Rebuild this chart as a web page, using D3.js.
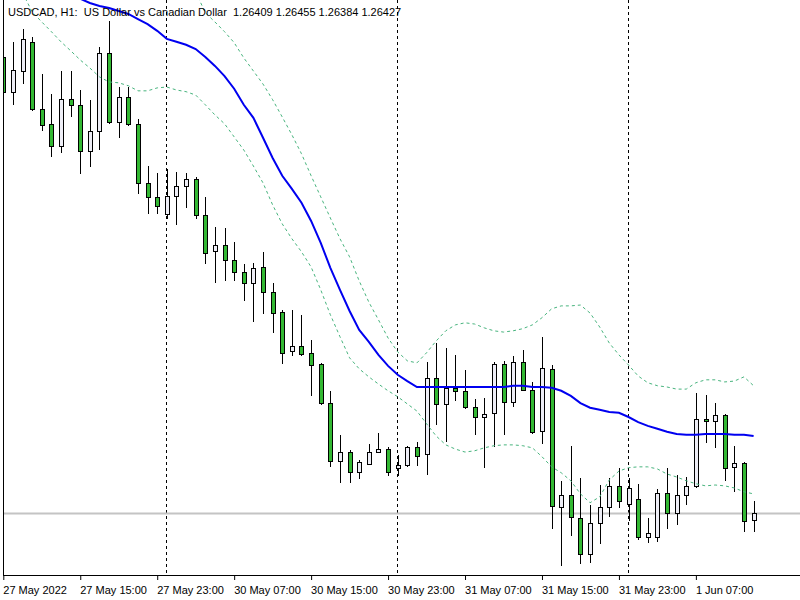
<!DOCTYPE html>
<html>
<head>
<meta charset="utf-8">
<script src="https://cdn.jsdelivr.net/npm/d3@7"></script>
<style>
body { margin: 0; background: #fff; }
svg { display: block; font-family: "Liberation Sans", Arial, sans-serif; }
</style>
</head>
<body>
<div id="chart"></div>
<script>
// USDCAD H1, 27 May 2022 07:00 .. 1 Jun 2022 13:00
var opens = [1.27506,1.27424,1.27473,1.27542,1.27383,1.27348,1.27296,1.27407,1.27393,1.27284,
  1.27331,1.27516,1.27352,1.27412,1.27348,1.27208,1.27175,1.27135,1.27177,1.27201,
  1.27218,1.27133,1.27047,1.27061,1.27026,1.26997,1.26971,1.27009,1.26950,1.26902,
  1.26810,1.26822,1.26806,1.26780,1.26687,1.26550,1.26571,1.26524,1.26543,1.26571,
  1.26578,1.26533,1.26541,1.26583,1.26567,1.26747,1.26685,1.26723,1.26716,1.26678,
  1.26654,1.26664,1.26780,1.26690,1.26784,1.26718,1.26621,1.26768,1.26441,1.26470,
  1.26415,1.26330,1.26403,1.26441,1.26491,1.26448,1.26460,1.26370,1.26370,1.26474,
  1.26427,1.26470,1.26491,1.26650,1.26645,1.26659,1.26536,1.26545,1.26409];
var highs = [1.27518,1.27542,1.27573,1.27554,1.27466,1.27419,1.27473,1.27473,1.27428,1.27405,
  1.27530,1.27592,1.27435,1.27435,1.27360,1.27248,1.27232,1.27241,1.27234,1.27232,
  1.27222,1.27175,1.27104,1.27102,1.27068,1.27016,1.27019,1.27045,1.26971,1.26908,
  1.26908,1.26896,1.26836,1.26781,1.26716,1.26612,1.26576,1.26552,1.26590,1.26616,
  1.26583,1.26564,1.26586,1.26595,1.26784,1.26829,1.26818,1.26801,1.26766,1.26697,
  1.26699,1.26784,1.26787,1.26799,1.26813,1.26737,1.26844,1.26777,1.26503,1.26586,
  1.26510,1.26446,1.26493,1.26510,1.26534,1.26510,1.26496,1.26415,1.26484,1.26533,
  1.26517,1.26512,1.26711,1.26706,1.26687,1.26660,1.26586,1.26548,1.26455];
var lows = [1.27416,1.27395,1.27445,1.27381,1.27334,1.27272,1.27282,1.27367,1.27232,1.27248,
  1.27289,1.27350,1.27317,1.27345,1.27184,1.27137,1.27137,1.27125,1.27111,1.27151,
  1.27125,1.27019,1.26974,1.26979,1.26979,1.26931,1.26882,1.26900,1.26855,1.26782,
  1.26801,1.26801,1.26706,1.26685,1.26538,1.26500,1.26500,1.26510,1.26542,1.26570,
  1.26517,1.26517,1.26538,1.26541,1.26519,1.26638,1.26597,1.26695,1.26676,1.26614,
  1.26536,1.26586,1.26614,1.26680,1.26718,1.26616,1.26593,1.26391,1.26304,1.26375,
  1.26309,1.26311,1.26356,1.26420,1.26441,1.26410,1.26365,1.26358,1.26361,1.26391,
  1.26401,1.26448,1.26488,1.26595,1.26583,1.26505,1.26479,1.26384,1.26384];
var closes = [1.27424,1.27476,1.27549,1.27383,1.27345,1.27296,1.27407,1.27393,1.27284,1.27331,
  1.27516,1.27352,1.27412,1.27348,1.27208,1.27175,1.27154,1.27177,1.27201,1.27218,
  1.27132,1.27042,1.27061,1.27026,1.26997,1.26971,1.27007,1.26950,1.26900,1.26806,
  1.26822,1.26803,1.26777,1.26687,1.26550,1.26571,1.26524,1.26548,1.26571,1.26578,
  1.26524,1.26541,1.26583,1.26562,1.26747,1.26685,1.26723,1.26716,1.26678,1.26654,
  1.26661,1.26780,1.26690,1.26784,1.26719,1.26619,1.26770,1.26444,1.26470,1.26417,
  1.26330,1.26403,1.26441,1.26491,1.26455,1.26486,1.26370,1.26380,1.26474,1.26427,
  1.26470,1.26491,1.26650,1.26645,1.26659,1.26533,1.26545,1.26408,1.26427];

// moving average (blue) and bands (dashed), null where off the chart
var maLine = [null,null,null,null,null,null,null,null,
  1.27644,1.27634,1.27627,1.27622,1.27615,1.27608,1.27596,1.27584,1.27568,1.27549,
  1.27542,1.27535,1.27525,1.27506,1.27485,1.27461,1.27431,1.27393,1.27362,1.27315,
  1.27267,1.27225,1.27194,1.27161,1.27118,1.27066,1.27007,1.26955,1.26905,1.26860,
  1.26832,1.26801,1.26775,1.26754,1.26739,1.26725,1.26725,1.26725,1.26725,1.26725,
  1.26725,1.26725,1.26725,1.26725,1.26725,1.26728,1.26728,1.26725,1.26725,1.26723,
  1.26716,1.26704,1.26687,1.26676,1.26671,1.26666,1.26664,1.26654,1.26642,1.26633,
  1.26626,1.26619,1.26614,1.26612,1.26612,1.26614,1.26614,1.26614,1.26612,1.26612,1.26609];
var upperBand = [null,null,null,null,null,null,null,null,null,null,
  null,null,null,null,null,null,null,null,null,null,
  1.27660,1.27611,1.27589,1.27566,1.27540,1.27504,1.27473,1.27442,1.27405,1.27364,
  1.27322,1.27277,1.27225,1.27175,1.27125,1.27076,1.27033,1.26976,1.26926,1.26884,
  1.26841,1.26808,1.26787,1.26782,1.26806,1.26834,1.26858,1.26872,1.26877,1.26874,
  1.26865,1.26858,1.26855,1.26858,1.26863,1.26872,1.26889,1.26910,1.26917,1.26917,
  1.26919,1.26900,1.26867,1.26829,1.26801,1.26777,1.26751,1.26735,1.26728,1.26725,
  1.26720,1.26720,1.26735,1.26742,1.26742,1.26737,1.26739,1.26749,1.26728];
var lowerBand = [null,null,
  1.27658,1.27613,1.27589,1.27566,1.27542,1.27521,1.27499,1.27480,
  1.27459,1.27447,1.27445,1.27438,1.27426,1.27426,1.27433,1.27435,1.27428,1.27424,
  1.27416,1.27393,1.27369,1.27348,1.27317,1.27286,1.27248,1.27208,1.27156,1.27111,
  1.27076,1.27045,1.27009,1.26955,1.26896,1.26844,1.26794,1.26768,1.26749,1.26732,
  1.26716,1.26702,1.26685,1.26668,1.26638,1.26609,1.26588,1.26578,1.26571,1.26574,
  1.26581,1.26586,1.26588,1.26588,1.26586,1.26581,1.26560,1.26536,1.26522,1.26503,
  1.26472,1.26451,1.26465,1.26505,1.26526,1.26534,1.26536,1.26536,1.26531,1.26519,
  1.26512,1.26503,1.26496,1.26491,1.26493,1.26491,1.26486,1.26477,1.26472];

var tickIdx = [0, 8, 16, 24, 32, 40, 48, 56, 64, 72];
var tickLabels = ["27 May 2022", "27 May 15:00", "27 May 23:00", "30 May 07:00", "30 May 15:00",
  "30 May 23:00", "31 May 07:00", "31 May 15:00", "31 May 23:00", "1 Jun 07:00"];
var daySeparators = [17, 41, 65];   // first bar of 30 May, 31 May, 1 Jun

var W = 800, H = 600, left = 3, bottom = 575;
var n = closes.length;

var x = d3.scaleLinear().domain([0, n - 1]).range([3.3, 753.6]);
var y = d3.scaleLinear().domain([1.26280, 1.27641]).range([bottom, 0]);

var svg = d3.select("#chart").append("svg")
    .attr("width", W)
    .attr("height", H);

svg.append("rect").attr("width", W).attr("height", H).attr("fill", "#fff");

svg.append("clipPath").attr("id", "plot")
  .append("rect")
    .attr("x", left + 1).attr("y", 0)
    .attr("width", W - left).attr("height", bottom);

var plot = svg.append("g").attr("clip-path", "url(#plot)");

// day separators
plot.selectAll(".sep")
    .data(daySeparators)
    .enter().append("line")
    .attr("x1", function(d) { return Math.round(x(d)) - 0.5; })
    .attr("x2", function(d) { return Math.round(x(d)) - 0.5; })
    .attr("y1", 0)
    .attr("y2", bottom)
    .attr("stroke", "#000")
    .attr("stroke-dasharray", "3,3");

// last price line
var lastY = Math.round(y(closes[n - 1])) + 0.5;
plot.append("line")
    .attr("x1", 0).attr("x2", W)
    .attr("y1", lastY).attr("y2", lastY)
    .attr("stroke", "#c4c4c4")
    .attr("stroke-width", 2);

// candles
var idx = d3.range(n);
var candles = plot.selectAll(".candle")
    .data(idx)
    .enter().append("g")
    .attr("class", "candle");

candles.append("line")
    .attr("x1", function(i) { return Math.round(x(i)) + 0.5; })
    .attr("x2", function(i) { return Math.round(x(i)) + 0.5; })
    .attr("y1", function(i) { return Math.round(y(highs[i])); })
    .attr("y2", function(i) { return Math.round(y(lows[i])) + 1; })
    .attr("stroke", "#000");

candles.append("rect")
    .attr("x", function(i) { return Math.round(x(i)) - 1.5; })
    .attr("y", function(i) { return Math.round(y(Math.max(opens[i], closes[i]))) + 0.5; })
    .attr("width", 4)
    .attr("height", function(i) {
        var h = Math.round(y(Math.min(opens[i], closes[i]))) - Math.round(y(Math.max(opens[i], closes[i])));
        return Math.max(h, 1);
    })
    .attr("fill", function(i) { return closes[i] >= opens[i] ? "#eeeef6" : "#33b833"; })
    .attr("stroke", "#000");

// bands and average
var line = d3.line()
    .defined(function(d) { return d[1] != null; })
    .x(function(d) { return x(d[0]); })
    .y(function(d) { return y(d[1]); });

[upperBand, lowerBand].forEach(function(band) {
    plot.append("path")
        .datum(band.map(function(v, i) { return [i, v]; }))
        .attr("d", line)
        .attr("fill", "none")
        .attr("stroke", "#48b47e")
        .attr("stroke-dasharray", "3,3");
});

plot.append("path")
    .datum(maLine.map(function(v, i) { return [i, v]; }))
    .attr("d", line)
    .attr("fill", "none")
    .attr("stroke", "#0000f0")
    .attr("stroke-width", 2);

// frame and time axis
svg.append("line")
    .attr("x1", left + 0.5).attr("x2", left + 0.5)
    .attr("y1", 0).attr("y2", bottom)
    .attr("stroke", "#000");

var axis = d3.axisBottom(x)
    .tickValues(tickIdx)
    .tickFormat(function(d, i) { return tickLabels[i]; })
    .tickSize(5)
    .tickPadding(6);

var ax = svg.append("g")
    .attr("transform", "translate(0," + bottom + ")")
    .call(axis);
ax.select(".domain").remove();
ax.selectAll(".tick text")
    .attr("text-anchor", "start")
    .attr("x", -0.5)
    .attr("fill", "#000")
    .style("font-size", "11px")
    .style("font-family", "'Liberation Sans', Arial, sans-serif");

svg.append("line")
    .attr("x1", left).attr("x2", W)
    .attr("y1", bottom + 0.5).attr("y2", bottom + 0.5)
    .attr("stroke", "#000");

// title
svg.append("text")
    .attr("x", 8)
    .attr("y", 16)
    .style("white-space", "pre")
    .style("font-size", "11px")
    .attr("fill", "#000")
    .text("USDCAD, H1:  US Dollar vs Canadian Dollar  " +
        [opens[n - 1], highs[n - 1], lows[n - 1], closes[n - 1]].map(function(v) { return v.toFixed(5); }).join(" "));
</script>
</body>
</html>
